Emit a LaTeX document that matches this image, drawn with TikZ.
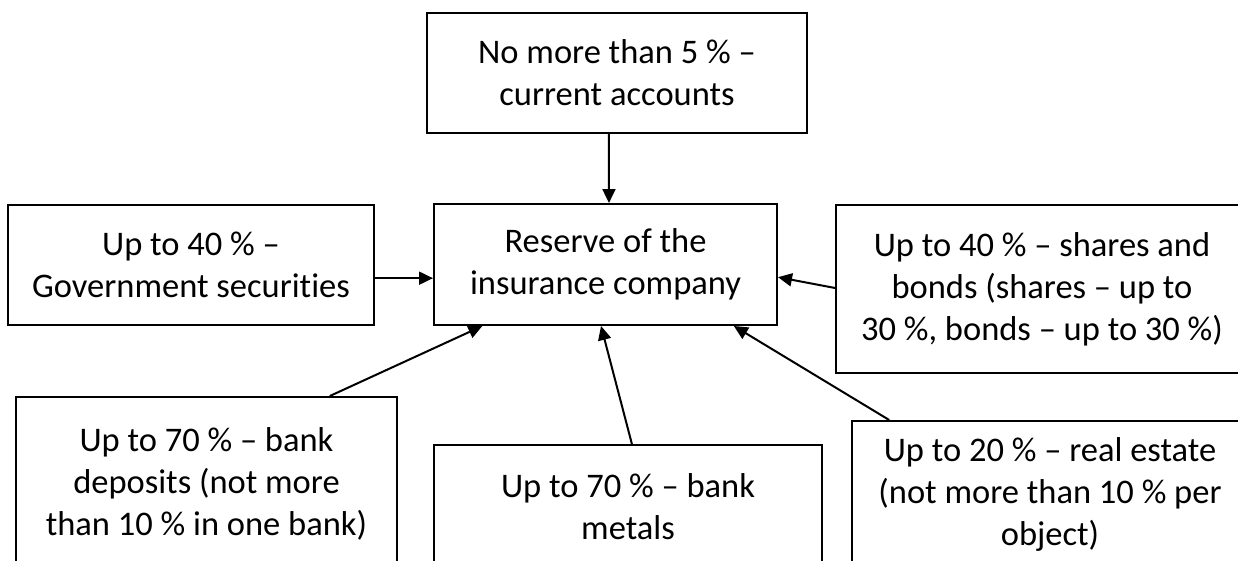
\documentclass[tikz,border=0pt]{standalone}
\usepackage{fontspec}
\setmainfont{Carlito}[Ligatures={NoCommon}]
\usetikzlibrary{calc,arrows.meta}
\begin{document}
\begin{tikzpicture}[x=1pt,y=-1pt,
  box/.style={draw,line width=2pt,rectangle,align=center,inner sep=0pt,
    font=\fontsize{34.5}{42}\selectfont},
  arr/.style={line width=2pt,-{Triangle[length=14pt,width=13pt]}}]
\useasboundingbox (0,0) rectangle (1238,560);
\clip (0,0) rectangle (1238,560);
\fill[white] (0,0) rectangle (1238,560);
\node[box,minimum width=380,minimum height=120] (top) at (617,73) {No more than 5~\% –\\current accounts};
\node[box,minimum width=343,minimum height=121] (res) at (605.5,264.5) {Reserve of the\\insurance company};
\node[box,minimum width=366,minimum height=120] (gov) at (191,265) {Up to 40~\% –\\Government securities};
\node[box,minimum width=412,minimum height=168] (sh) at (1042,289) {Up to 40~\% – shares and\\bonds (shares – up to\\30~\%, bonds – up to 30~\%)};
\node[box,minimum width=381,minimum height=174] (dep) at (206.5,484) {Up to 70~\% – bank\\deposits (not more\\than 10~\% in one bank)};
\node[box,minimum width=388,minimum height=123] (met) at (628,506.5) {Up to 70~\% – bank\\metals};
\node[box,minimum width=396,minimum height=146] (re) at (1050,494) {Up to 20~\% – real estate\\(not more than 10~\% per\\object)};
\coordinate (g1) at ($(gov.north east)!0.608!(gov.south east)$);
\draw[arr] ($(top.south west)!0.479!(top.south east)$) -- ($(res.north west)!0.510!(res.north east)$);
\draw[arr] (g1) -- (res.west |- g1);
\draw[arr] ($(dep.north west)!0.822!(dep.north east)$) -- ($(res.south west)!0.143!(res.south east)$);
\draw[arr] ($(met.north west)!0.510!(met.north east)$) -- ($(res.south west)!0.487!(res.south east)$);
\draw[arr] ($(re.north west)!0.096!(re.north east)$) -- ($(res.south west)!0.872!(res.south east)$);
\draw[arr] ($(sh.north west)!0.494!(sh.south west)$) -- ($(res.north east)!0.603!(res.south east)$);
\end{tikzpicture}
\end{document}
